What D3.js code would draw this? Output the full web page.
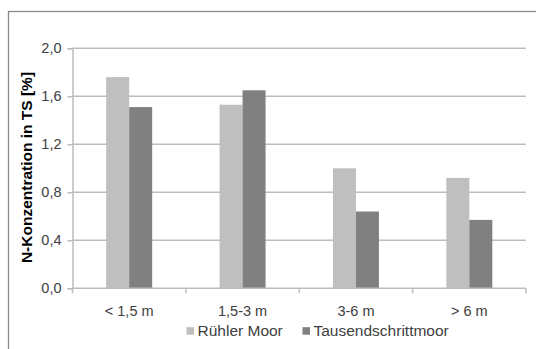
<!DOCTYPE html>
<html>
<head>
<meta charset="utf-8">
<script src="https://cdn.jsdelivr.net/npm/d3@7"></script>
<style>
  html, body { margin: 0; padding: 0; background: #fff; }
  svg { display: block; font-family: Arial, "Liberation Sans", sans-serif; }
</style>
</head>
<body>
<svg id="chart" width="536" height="349"></svg>
<script>
// Depth classes below the surface
const categories = ["< 1,5 m", "1,5-3 m", "3-6 m", "> 6 m"];
// N concentration in dry matter [%] per bog
const seriesNames = ["Rühler Moor", "Tausendschrittmoor"];
const ruehlerMoor = [1.76, 1.53, 1.00, 0.92];
const tausendschrittmoor = [1.51, 1.65, 0.64, 0.57];
const yTicks = [0, 0.4, 0.8, 1.2, 1.6, 2.0];
const colors = ["#bfbfbf", "#808080"];

const rows = categories.map((c, i) => ({
  cat: c,
  values: [ruehlerMoor[i], tausendschrittmoor[i]]
}));

const svg = d3.select("#chart");

// outer chart frame (runs off the right and bottom edge)
svg.append("rect")
  .attr("x", 8.5).attr("y", 11.5)
  .attr("width", 700).attr("height", 500)
  .attr("fill", "none").attr("stroke", "#8a8a8a").attr("stroke-width", 1.3);

const plotLeft = 72.5, plotRight = 526, plotTop = 48.3, plotBottom = 288.3;

const x = d3.scaleBand().domain(categories).range([plotLeft, plotRight]).padding(0);
const y = d3.scaleLinear().domain([0, 2.0]).range([plotBottom, plotTop]);
const barW = 23;
const xs = d3.scaleBand().domain(seriesNames).range([0, barW * 2]).padding(0);

// horizontal gridlines
svg.append("g").selectAll("line")
  .data(yTicks.filter(t => t > 0))
  .join("line")
  .attr("x1", plotLeft).attr("x2", plotRight)
  .attr("y1", d => y(d)).attr("y2", d => y(d))
  .attr("stroke", "#bdbdbd").attr("stroke-width", 1.5);

// bars
const groups = svg.append("g").selectAll("g")
  .data(rows)
  .join("g")
  .attr("transform", d => `translate(${x(d.cat) + x.bandwidth() / 2 - barW},0)`);

groups.selectAll("rect")
  .data(d => d.values.map((v, k) => ({ name: seriesNames[k], v, k })))
  .join("rect")
  .attr("x", d => xs(d.name))
  .attr("width", xs.bandwidth())
  .attr("y", d => y(d.v))
  .attr("height", d => y(0) - y(d.v))
  .attr("fill", d => colors[d.k]);

// y axis
const yAxis = d3.axisLeft(y)
  .tickValues(yTicks)
  .tickSize(5)
  .tickPadding(6)
  .tickFormat(d => d3.format(".1f")(d).replace(".", ","));
const gy = svg.append("g").attr("transform", `translate(${plotLeft},0)`).call(yAxis);
gy.select(".domain").attr("stroke", "#bdbdbd").attr("stroke-width", 1.5);
gy.selectAll(".tick line").attr("stroke", "#bdbdbd").attr("stroke-width", 1.5);
gy.selectAll(".tick text")
  .attr("fill", "#404040")
  .attr("font-size", 14.5)
  .attr("font-family", "Arial, 'Liberation Sans', sans-serif");

// x axis with ticks at category boundaries
svg.append("line")
  .attr("x1", plotLeft).attr("x2", plotRight)
  .attr("y1", plotBottom).attr("y2", plotBottom)
  .attr("stroke", "#bdbdbd").attr("stroke-width", 1.5);
svg.append("g").selectAll("line")
  .data(categories)
  .join("line")
  .attr("x1", d => x(d) + x.bandwidth()).attr("x2", d => x(d) + x.bandwidth())
  .attr("y1", plotBottom).attr("y2", plotBottom + 5)
  .attr("stroke", "#bdbdbd").attr("stroke-width", 1.5);
svg.append("line")
  .attr("x1", plotLeft).attr("x2", plotLeft)
  .attr("y1", plotBottom).attr("y2", plotBottom + 5)
  .attr("stroke", "#bdbdbd").attr("stroke-width", 1.5);

svg.append("g").selectAll("text")
  .data(categories)
  .join("text")
  .attr("x", d => x(d) + x.bandwidth() / 2)
  .attr("y", 311)
  .attr("dy", "0.35em")
  .attr("text-anchor", "middle")
  .attr("font-size", 14.5)
  .attr("fill", "#404040")
  .text(d => d);

// y axis title
svg.append("text")
  .attr("transform", "translate(31.5,167.5) rotate(-90)")
  .attr("text-anchor", "middle")
  .attr("font-size", 15.5)
  .attr("font-weight", "bold")
  .attr("fill", "#000")
  .text("N-Konzentration in TS [%]");

// legend
const legendX = [186.5, 302.5];
const lg = svg.append("g").selectAll("g")
  .data(seriesNames)
  .join("g")
  .attr("transform", (d, i) => `translate(${legendX[i]},331)`);
lg.append("rect")
  .attr("x", 0).attr("y", -3.8)
  .attr("width", 7.5).attr("height", 7.5)
  .attr("fill", (d, i) => colors[i]);
lg.append("text")
  .attr("x", 11)
  .attr("dy", "0.35em")
  .attr("font-size", 15.5)
  .attr("fill", "#404040")
  .text(d => d);
</script>
</body>
</html>
